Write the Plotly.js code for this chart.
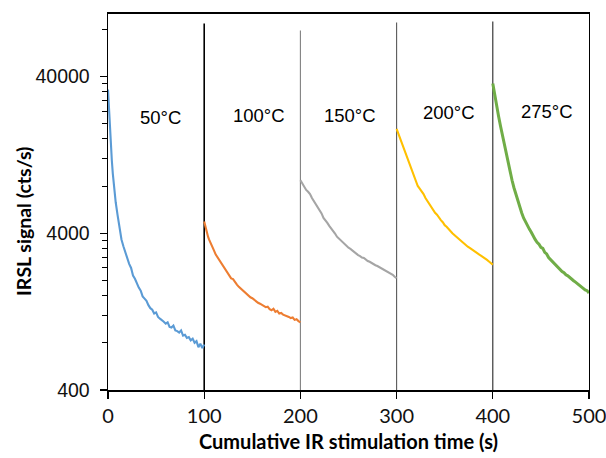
<!DOCTYPE html>
<html>
<head>
<meta charset="utf-8">
<script src="https://cdn.plot.ly/plotly-3.0.1.min.js"></script>
<style>html,body{margin:0;padding:0;background:#fff;}#chart{width:606px;height:458px;}</style>
</head>
<body>
<div id="chart"></div>
<script>
// relative stimulation time within each step (s)
const tRel = [0,1,2,3,4,5,6,8,10,12,14,16,18,20,22,24,26,28,30,32,34,36,38,40,42,44,46,48,50,52,54,56,58,60,62,64,66,68,70,72,74,76,78,80,82,84,86,88,90,92,94,96,98,100];
const stepStart = [0, 100, 200, 300, 400];
const stepLabels = ['50°C', '100°C', '150°C', '200°C', '275°C'];
const stepColors = ['#5B9BD5', '#ED7D31', '#A5A5A5', '#FFC000', '#70AD47'];

const sig50 = [33000,24000,18000,14000,11600,9600,8200,6300,5200,4300,3650,3300,3000,2800,2550,2400,2150,2050,1900,1800,1720,1580,1530,1480,1390,1330,1300,1230,1250,1170,1140,1120,1090,1060,1080,1010,1000,1030,960,950,930,960,890,900,860,870,830,850,800,820,750,790,740,780];
const sig100 = [4750,4450,4200,3980,3800,3650,3520,3280,3120,2920,2800,2640,2560,2430,2330,2240,2140,2060,2040,1950,1880,1820,1770,1720,1690,1640,1600,1560,1540,1500,1470,1440,1420,1400,1380,1350,1360,1310,1290,1320,1260,1280,1230,1240,1210,1200,1180,1170,1150,1160,1120,1130,1100,1080];
const sig150 = [8700,8500,8250,8050,7900,7700,7550,7350,7100,6700,6400,6100,5850,5600,5350,5000,4850,4650,4450,4300,4100,3980,3800,3700,3580,3480,3400,3320,3230,3180,3100,3030,2980,2900,2860,2800,2780,2700,2660,2630,2580,2560,2500,2470,2430,2390,2360,2300,2290,2230,2200,2170,2110,2070];
const sig200 = [18500,17800,17000,16400,15800,15200,14600,13500,12500,11600,10700,10000,9300,8500,8000,7700,7400,7100,6700,6400,6150,5900,5650,5400,5250,5000,4850,4700,4500,4400,4250,4100,4000,3900,3800,3700,3610,3520,3450,3350,3280,3220,3150,3100,3040,2980,2920,2870,2820,2760,2700,2640,2590,2520];
const sig275 = [36000,33000,30500,28000,26000,24000,22300,19300,16800,14600,12700,11200,9900,8700,7800,7100,6500,5800,5400,5000,4700,4450,4250,4050,3800,3650,3500,3400,3250,3200,3020,2950,2800,2720,2650,2580,2470,2400,2360,2280,2240,2170,2140,2080,2050,1990,1950,1900,1860,1830,1780,1740,1720,1660];
const signals = [sig50, sig100, sig150, sig200, sig275];

// vertical separators between steps
const sepX = [100, 200, 300, 400];
const sepTop = [87000, 78500, 88300, 89600];
const sepColors = ['#000000', '#808080', '#595959', '#262626'];

// y-axis ticks
const yTickVals = [400, 4000, 40000];
const yTickText = ['400', '4000', '40000'];
const yMinorVals = [800,1200,1600,2000,2400,2800,3200,3600,8000,12000,16000,20000,24000,28000,32000,36000,80000];
const xTickVals = [0, 100, 200, 300, 400, 500];

const traces = [];
sepX.forEach((x, i) => {
  traces.push({
    x: [x, x], y: [400, sepTop[i]], mode: 'lines', type: 'scatter',
    line: {color: sepColors[i], width: (i === 0 ? 1.6 : 1.1)},
    hoverinfo: 'skip', showlegend: false
  });
});
signals.forEach((s, i) => {
  traces.push({
    x: tRel.map(t => t + stepStart[i]), y: s, mode: 'lines', type: 'scatter',
    line: {color: stepColors[i], width: (i === 4 ? 3 : 2.1), shape: 'linear'},
    showlegend: false
  });
});

const annY = [0.726, 0.7295, 0.7295, 0.737, 0.740];
const annX = [55, 157, 251.5, 354, 456];
const annotations = stepLabels.map((lab, i) => ({
  text: lab, x: annX[i], xref: 'x', y: annY[i], yref: 'paper',
  showarrow: false, xanchor: 'center', yanchor: 'middle',
  font: {family: 'Liberation Sans, Arial, sans-serif', size: 18.5, color: '#000'}
}));
annotations.push({
  text: '<b>IRSL signal (cts/s)</b>', textangle: -90,
  x: 0, xref: 'paper', xshift: -84, xanchor: 'center',
  y: 0.447, yref: 'paper', yanchor: 'middle', showarrow: false,
  font: {family: 'Lato, Open Sans, sans-serif', size: 19.5, color: '#000'}
});
annotations.push({
  text: '<b>Cumulative IR stimulation time (s)</b>',
  x: 0.5, xref: 'paper', xanchor: 'center',
  y: 0, yref: 'paper', yshift: -51, yanchor: 'middle', showarrow: false,
  font: {family: 'Lato, Open Sans, sans-serif', size: 20, color: '#000'}
});

const layout = {
  width: 606, height: 458,
  margin: {l: 108, r: 17, t: 14, b: 68},
  paper_bgcolor: '#fff', plot_bgcolor: '#fff',
  showlegend: false,
  xaxis: {
    range: [0, 500], tickmode: 'array', tickvals: xTickVals,
    ticks: 'outside', ticklen: 7, tickwidth: 1.3, tickcolor: '#000',
    ticklabeloverflow: 'allow',
    showline: true, linecolor: '#000', linewidth: 1.6, mirror: true,
    showgrid: false, zeroline: false,
    tickfont: {family: 'Lato, Open Sans, sans-serif', size: 20, color: '#111'}
  },
  yaxis: {
    type: 'log', range: [Math.log10(400), 5],
    tickmode: 'array', tickvals: yTickVals, ticktext: yTickText,
    ticks: 'outside', ticklen: 7, tickwidth: 1.3, tickcolor: '#000',
    ticklabelstandoff: 6,
    minor: {tickmode: 'array', tickvals: yMinorVals, ticks: 'outside', ticklen: 5, tickwidth: 1, tickcolor: '#000', showgrid: false},
    showline: true, linecolor: '#000', linewidth: 1.4, mirror: true,
    showgrid: false, zeroline: false,
    tickfont: {family: 'Liberation Sans, Arial, sans-serif', size: 19.5, color: '#111'}
  },
  annotations: annotations
};

Plotly.newPlot('chart', traces, layout, {staticPlot: true, displayModeBar: false});
</script>
</body>
</html>
